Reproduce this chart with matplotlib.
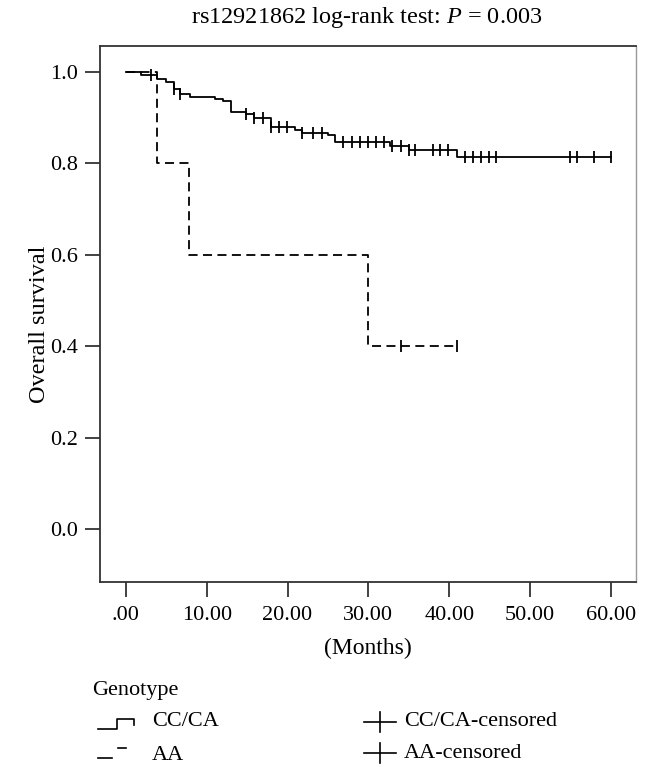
import numpy as np
import matplotlib
matplotlib.use("Agg")
import matplotlib.pyplot as plt
from matplotlib.lines import Line2D

# ---- data ----
cc_times = [0, 1.9, 3.9, 5.0, 5.9, 6.7, 7.9, 11.0, 12.0, 13.0, 14.8, 15.9, 18.0, 20.9, 21.8, 25.0, 25.9, 32.7, 35.0, 41.0, 60.0]
cc_surv = [1.0, 0.993, 0.984, 0.978, 0.963, 0.953, 0.946, 0.941, 0.936, 0.913, 0.908, 0.900, 0.880, 0.874, 0.866, 0.862, 0.847, 0.839, 0.829, 0.814, 0.814]
cc_censor = [3.1, 5.9, 6.7, 14.8, 15.9, 17.0, 18.0, 19.0, 19.9, 21.8, 23.2, 24.3, 26.9, 28.0, 29.0,
             30.0, 31.0, 31.9, 32.9, 34.0, 35.0, 35.8, 38.0, 38.9, 39.9, 41.9, 42.9, 43.9, 44.9,
             45.8, 54.9, 55.8, 57.9, 60.0]
aa_times = [0, 3.9, 7.85, 29.9, 41.0]
aa_surv = [1.0, 0.8, 0.6, 0.4, 0.4]
aa_censor = [34.0, 40.9]

xticks = [0, 10, 20, 30, 40, 50, 60]
xticklabels = [".00", "10.00", "20.00", "30.00", "40.00", "50.00", "60.00"]
yticks = [0.0, 0.2, 0.4, 0.6, 0.8, 1.0]
yticklabels = ["0.0", "0.2", "0.4", "0.6", "0.8", "1.0"]


def step_at(times, surv, t):
    i = np.searchsorted(times, t, side="right") - 1
    return surv[max(i, 0)]


plt.rcParams["font.family"] = ["Liberation Serif", "DejaVu Serif"]
plt.rcParams["mathtext.fontset"] = "custom"
plt.rcParams["mathtext.it"] = "Liberation Serif:italic"
plt.rcParams["mathtext.rm"] = "Liberation Serif"
W, H = 650, 771
fig = plt.figure(figsize=(W / 100, H / 100), dpi=100)
FS = 16


def fx(x):
    return x / W


def fy(y):
    return 1 - y / H


ax = fig.add_axes([fx(100), fy(582), fx(636) - fx(100), fy(46) - fy(582)])
lw = 1.3
ax.step(cc_times, cc_surv, where="post", color="black", lw=lw)
ax.step(aa_times, aa_surv, where="post", color="black", lw=lw, linestyle=(0, (5, 3)))
ax.plot(cc_censor, [step_at(cc_times, cc_surv, t) for t in cc_censor], linestyle="none",
        marker="|", markersize=8, markeredgewidth=1.3, color="black")
ax.plot(aa_censor, [step_at(aa_times, aa_surv, t) for t in aa_censor], linestyle="none",
        marker="|", markersize=8, markeredgewidth=1.3, color="black")

ax.set_xlim(-3.2, 63.1)
ax.set_ylim(-0.116, 1.057)
ax.set_xticks(xticks)
ax.set_xticklabels(xticklabels)
ax.set_yticks(yticks)
ax.set_yticklabels(yticklabels)
ax.tick_params(direction="out", length=10.5, width=1.3, labelsize=FS, color="#333333", pad=5)
ax.tick_params(axis="x", pad=7)
for s in ["left", "bottom", "top"]:
    ax.spines[s].set_color("#333333")
    ax.spines[s].set_linewidth(1.3)
ax.spines["right"].set_color("#999999")
ax.spines["right"].set_linewidth(1.0)

fig.text(fx(367), fy(17), "rs12921862 log-rank test: $P$ = 0.003", fontsize=17.5,
         ha="center", va="center")
ax.set_xlabel("(Months)", fontsize=17, va="center")
ax.xaxis.set_label_coords(0.5, (582 - 648) / 536.0)
ax.set_ylabel("Overall survival", fontsize=17.5, va="center")
ax.yaxis.set_label_coords((40 - 100) / 536.0, 0.48)

# ---- legend below ----
LFS = 16
fig.text(fx(92), fy(690), "Genotype", fontsize=LFS, va="center", ha="left")
fig.add_artist(Line2D([fx(98), fx(117), fx(117), fx(134), fx(134)],
                      [fy(729), fy(729), fy(719), fy(719), fy(725)],
                      transform=fig.transFigure, color="black", lw=1.2))
fig.text(fx(152), fy(722), "CC/CA", fontsize=LFS, va="center", ha="left")
fig.add_artist(Line2D([fx(98), fx(112)], [fy(758), fy(758)], transform=fig.transFigure, color="black", lw=1.2))
fig.add_artist(Line2D([fx(118), fx(126)], [fy(748), fy(748)], transform=fig.transFigure, color="black", lw=1.2))
fig.text(fx(152), fy(755), "AA", fontsize=LFS, va="center", ha="left")

for yy, lab in [(722, "CC/CA-censored"), (753, "AA-censored")]:
    fig.add_artist(Line2D([fx(364), fx(396)], [fy(yy), fy(yy)], transform=fig.transFigure, color="black", lw=1.2))
    fig.add_artist(Line2D([fx(380), fx(380)], [fy(yy - 10), fy(yy + 10)], transform=fig.transFigure, color="black", lw=1.2))
    fig.text(fx(404), fy(yy), lab, fontsize=LFS, va="center", ha="left")

fig.savefig("out.png", dpi=100)
